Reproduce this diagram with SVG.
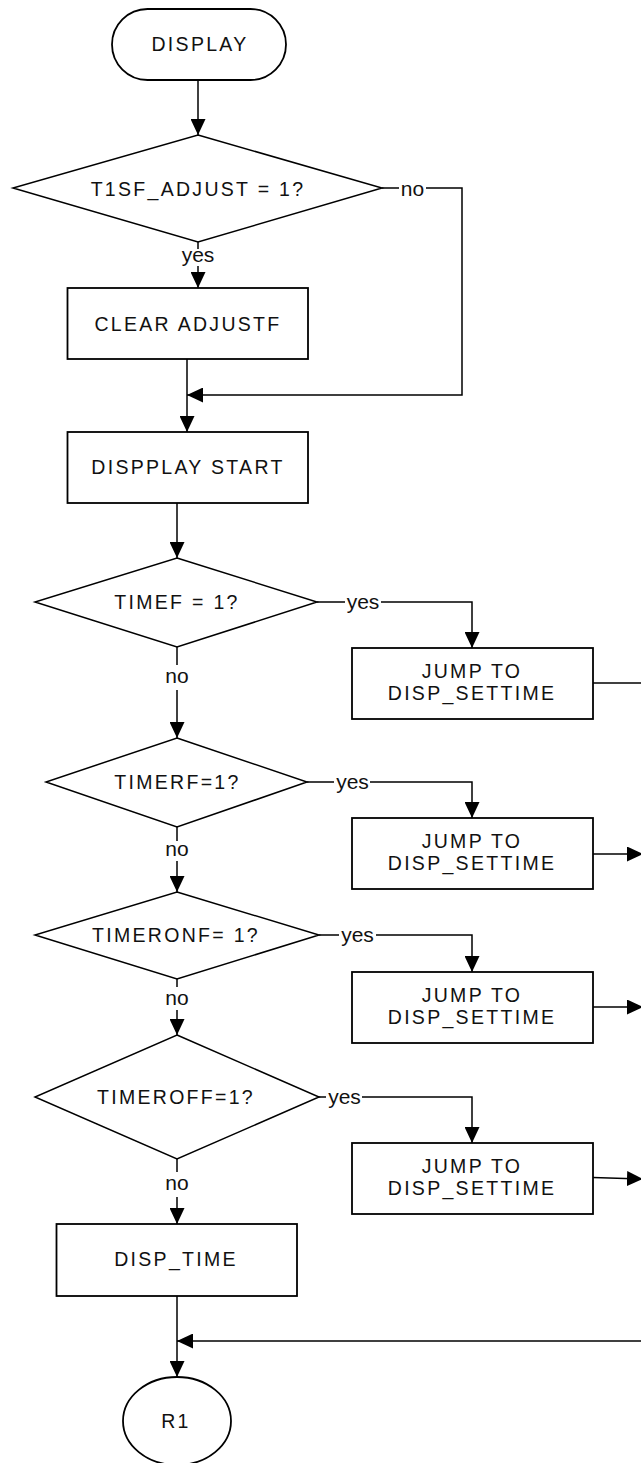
<svg xmlns="http://www.w3.org/2000/svg" width="641" height="1463" viewBox="0 0 641 1463">
<style>
.shape{fill:#fff;stroke:#000;stroke-width:1.8}
.dia{fill:#fff;stroke:#000;stroke-width:1.5}
.ln{fill:none;stroke:#000;stroke-width:1.5}
.t{font-family:"Liberation Sans",Arial,sans-serif;font-size:19.5px;letter-spacing:2.3px;fill:#111;text-anchor:middle}
.lb{font-family:"Liberation Sans",Arial,sans-serif;font-size:21px;fill:#111;text-anchor:middle}
</style>
<defs>
<marker id="ah" markerUnits="userSpaceOnUse" markerWidth="16" markerHeight="15" refX="16" refY="7.5" orient="auto">
<path d="M0,0 L16,7.5 L0,15 z" fill="#000"/>
</marker>
</defs>
<rect width="641" height="1463" fill="#fff"/>

<g id="connectors">
<path class="ln" d="M198,80 V135" marker-end="url(#ah)"/>
<path class="ln" d="M382,188 H399"/>
<path class="ln" d="M426,188 H462 V395 H187" marker-end="url(#ah)"/>
<path class="ln" d="M198,242 V249"/>
<path class="ln" d="M198,266 V288" marker-end="url(#ah)"/>
<path class="ln" d="M187,359 V432" marker-end="url(#ah)"/>
<path class="ln" d="M177,503 V558" marker-end="url(#ah)"/>
<path class="ln" d="M317,602 H345"/>
<path class="ln" d="M381,602 H472 V648" marker-end="url(#ah)"/>
<path class="ln" d="M177,647 V665"/>
<path class="ln" d="M177,690 V738" marker-end="url(#ah)"/>
<path class="ln" d="M307,782 H334"/>
<path class="ln" d="M370,782 H472 V818" marker-end="url(#ah)"/>
<path class="ln" d="M177,827 V841"/>
<path class="ln" d="M177,861 V892" marker-end="url(#ah)"/>
<path class="ln" d="M319,935 H339"/>
<path class="ln" d="M376,935 H472 V972" marker-end="url(#ah)"/>
<path class="ln" d="M177,979 V987"/>
<path class="ln" d="M177,1010 V1035" marker-end="url(#ah)"/>
<path class="ln" d="M319,1097 H326"/>
<path class="ln" d="M362,1097 H472 V1143" marker-end="url(#ah)"/>
<path class="ln" d="M177,1159 V1172"/>
<path class="ln" d="M177,1197 V1224" marker-end="url(#ah)"/>
<path class="ln" d="M177,1296 V1377" marker-end="url(#ah)"/>
<path class="ln" d="M645,1341 H177" marker-end="url(#ah)"/>
<path class="ln" d="M593,683 H645"/>
<path class="ln" d="M593,854 H643" marker-end="url(#ah)"/>
<path class="ln" d="M593,1007 H643" marker-end="url(#ah)"/>
<path class="ln" d="M593,1177.5 L643,1179" marker-end="url(#ah)"/>
<text class="lb" x="412.5" y="196">no</text>
<text class="lb" x="198" y="262">yes</text>
<text class="lb" x="363" y="609">yes</text>
<text class="lb" x="177" y="683">no</text>
<text class="lb" x="352.5" y="789">yes</text>
<text class="lb" x="177" y="856">no</text>
<text class="lb" x="357.5" y="942">yes</text>
<text class="lb" x="177" y="1005">no</text>
<text class="lb" x="344.5" y="1104">yes</text>
<text class="lb" x="177" y="1190">no</text>
</g>

<g id="start">
<rect class="shape" x="112" y="9" width="174" height="71" rx="35.5"/>
<text class="t" x="200" y="51">DISPLAY</text>
</g>
<g id="dec_t1sf">
<polygon class="dia" points="198,135 382,188 198,242 13,188"/>
<text class="t" x="198" y="196">T1SF_ADJUST = 1?</text>
</g>
<g id="clear_adjustf">
<rect class="shape" x="67.5" y="288" width="240.5" height="71"/>
<text class="t" x="188" y="330.5">CLEAR ADJUSTF</text>
</g>
<g id="display_start">
<rect class="shape" x="67.5" y="432" width="240.5" height="71"/>
<text class="t" x="188" y="474">DISPPLAY START</text>
</g>
<g id="dec_timef">
<polygon class="dia" points="177,558 317,602 177,647 35,602"/>
<text class="t" x="177" y="609">TIMEF = 1?</text>
</g>
<g id="jump1">
<rect class="shape" x="352" y="648" width="241" height="71"/>
<text class="t" x="472" y="678">JUMP TO</text>
<text class="t" x="472" y="700">DISP_SETTIME</text>
</g>
<g id="dec_timerf">
<polygon class="dia" points="177,738 307,782 177,827 46,782"/>
<text class="t" x="177.5" y="789">TIMERF=1?</text>
</g>
<g id="jump2">
<rect class="shape" x="352" y="818" width="241" height="71"/>
<text class="t" x="472" y="848">JUMP TO</text>
<text class="t" x="472" y="870">DISP_SETTIME</text>
</g>
<g id="dec_timeronf">
<polygon class="dia" points="177,892 319,935 177,979 35,935"/>
<text class="t" x="176" y="942">TIMERONF= 1?</text>
</g>
<g id="jump3">
<rect class="shape" x="352" y="972" width="241" height="71"/>
<text class="t" x="472" y="1002">JUMP TO</text>
<text class="t" x="472" y="1024">DISP_SETTIME</text>
</g>
<g id="dec_timeroff">
<polygon class="dia" points="177,1035 319,1097 177,1159 35,1097"/>
<text class="t" x="176" y="1104">TIMEROFF=1?</text>
</g>
<g id="jump4">
<rect class="shape" x="352" y="1143" width="241" height="71"/>
<text class="t" x="472" y="1173">JUMP TO</text>
<text class="t" x="472" y="1195">DISP_SETTIME</text>
</g>
<g id="disp_time">
<rect class="shape" x="56.5" y="1224" width="240.5" height="72"/>
<text class="t" x="176" y="1266">DISP_TIME</text>
</g>
<g id="r1">
<ellipse class="shape" cx="177" cy="1421" rx="54" ry="44"/>
<text class="t" x="176" y="1428">R1</text>
</g>
</svg>
